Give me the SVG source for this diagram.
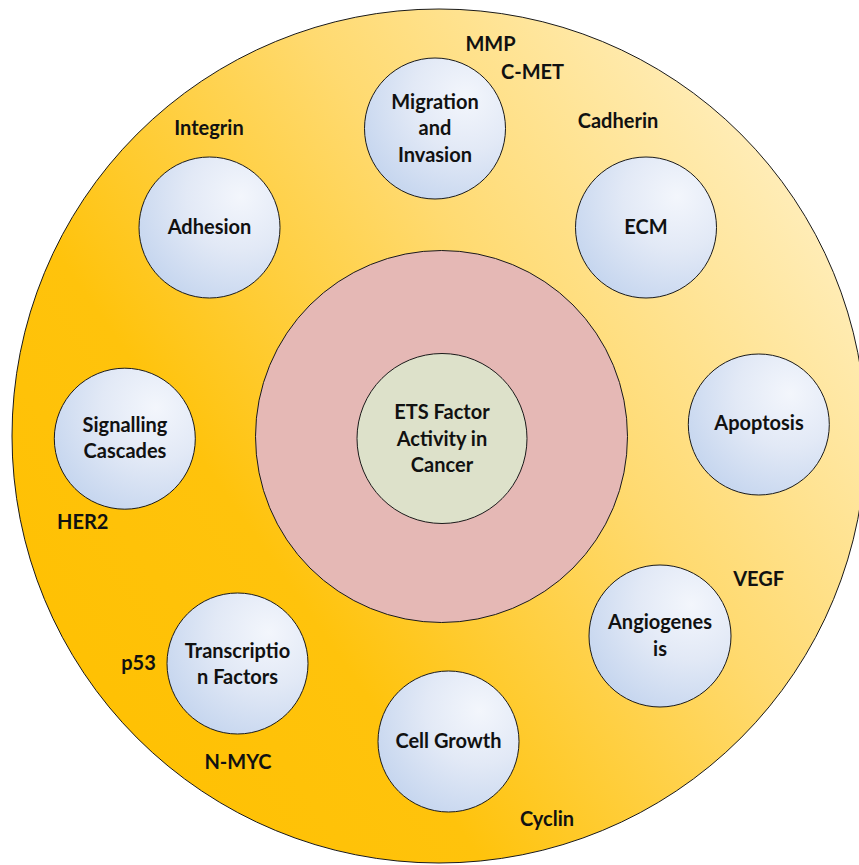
<svg xmlns="http://www.w3.org/2000/svg" width="859" height="865" viewBox="0 0 859 865">
<defs>
<linearGradient id="ring" x1="0" y1="0.85" x2="1" y2="0.15">
<stop offset="0" stop-color="#FFC000"/>
<stop offset="0.3" stop-color="#FFC30C"/>
<stop offset="0.62" stop-color="#FFDA70"/>
<stop offset="1" stop-color="#FFF2CC"/>
</linearGradient>
<radialGradient id="bub" cx="0.72" cy="0.28" r="0.85">
<stop offset="0" stop-color="#F3F6FC"/>
<stop offset="0.45" stop-color="#E2E9F6"/>
<stop offset="1" stop-color="#C3D4EE"/>
</radialGradient>
</defs>
<style>
.t{font-family:Lato,"Liberation Sans",sans-serif;font-weight:bold;font-size:20px;fill:#111;text-anchor:middle}
.b{fill:url(#bub);stroke:#1a1a1a;stroke-width:1}
</style>
<g id="outer-ring">
<circle cx="439" cy="436" r="427" fill="url(#ring)" stroke="#1a1a1a" stroke-width="1"/>
</g>
<g id="inner-ring">
<circle cx="441.5" cy="436.5" r="186" fill="#E5B8B5" stroke="#1a1a1a" stroke-width="1"/>
</g>
<g id="center">
<circle cx="442" cy="438.5" r="85" fill="#DDE1CA" stroke="#1a1a1a" stroke-width="1"/>
<text class="t" x="442" y="419.3">ETS Factor</text>
<text class="t" x="442" y="445.5">Activity in</text>
<text class="t" x="442" y="471.7">Cancer</text>
</g>
<g id="migration">
<circle class="b" cx="435" cy="128.5" r="70.5"/>
<text class="t" x="435" y="108.5">Migration</text>
<text class="t" x="435" y="135">and</text>
<text class="t" x="435" y="161.5">Invasion</text>
</g>
<g id="adhesion">
<circle class="b" cx="209.5" cy="227.5" r="70.5"/>
<text class="t" x="209.5" y="234.3">Adhesion</text>
</g>
<g id="ecm">
<circle class="b" cx="646" cy="227.5" r="70.5"/>
<text class="t" x="646" y="234.3">ECM</text>
</g>
<g id="signalling">
<circle class="b" cx="124.8" cy="438.7" r="70.5"/>
<text class="t" x="125" y="431.7">Signalling</text>
<text class="t" x="125" y="458.3">Cascades</text>
</g>
<g id="apoptosis">
<circle class="b" cx="758.8" cy="424.5" r="70.5"/>
<text class="t" x="759" y="430">Apoptosis</text>
</g>
<g id="angiogenesis">
<circle class="b" cx="660" cy="636" r="71"/>
<text class="t" x="660" y="629">Angiogenes</text>
<text class="t" x="660" y="656">is</text>
</g>
<g id="transcription">
<circle class="b" cx="237.5" cy="663.5" r="70.5"/>
<text class="t" x="237.5" y="657.7">Transcriptio</text>
<text class="t" x="237.5" y="684">n Factors</text>
</g>
<g id="cell-growth">
<circle class="b" cx="448.5" cy="741.5" r="70.5"/>
<text class="t" x="448.5" y="748.3">Cell Growth</text>
</g>
<g id="labels">
<text class="t" x="209" y="135">Integrin</text>
<text class="t" x="490.5" y="51">MMP</text>
<text class="t" x="532.5" y="79.3">C-MET</text>
<text class="t" x="618" y="128.3">Cadherin</text>
<text class="t" x="82.7" y="529.3">HER2</text>
<text class="t" x="758.7" y="585.7">VEGF</text>
<text class="t" x="138.5" y="670">p53</text>
<text class="t" x="238" y="769">N-MYC</text>
<text class="t" x="547" y="825.7">Cyclin</text>
</g>
<g id="connectors"></g>
</svg>
